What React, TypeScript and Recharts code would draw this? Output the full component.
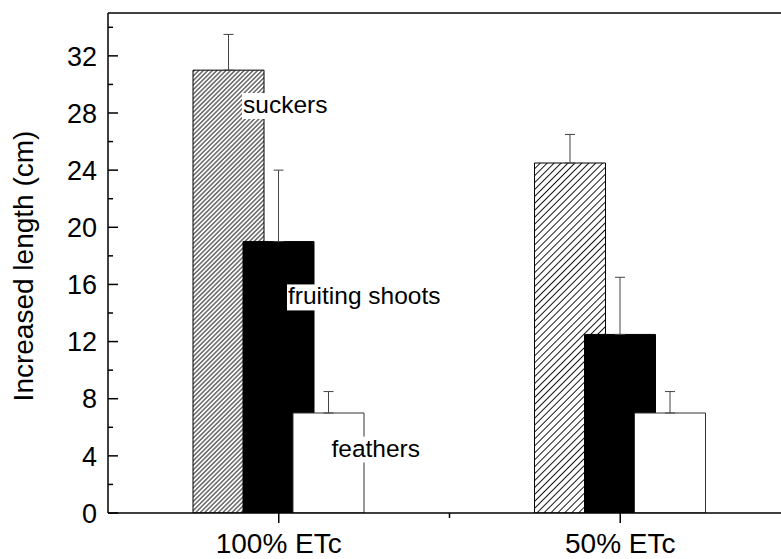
import { useLayoutEffect, useRef, useState } from "react";
import { BarChart, Bar, XAxis, YAxis, ErrorBar, LabelList, Cell, ReferenceLine } from "recharts";

const groups = ["100% ETc", "50% ETc"];
const suckers = [31, 24.5];
const fruitingShoots = [19, 12.5];
const feathers = [7, 7];
const suckersErr = [2.5, 2];
const fruitingShootsErr = [5, 4];
const feathersErr = [1.5, 1.5];
const yTicks = [0, 2, 4, 6, 8, 10, 12, 14, 16, 18, 20, 22, 24, 26, 28, 30, 32, 34];
const seriesNames = ["suckers", "fruiting shoots", "feathers"];

// error bars only go upward, so the lower part is 0
const data = groups.map((group, i) => ({
  group,
  suckers: suckers[i],
  fruitingShoots: fruitingShoots[i],
  feathers: feathers[i],
  suckersErr: [0, suckersErr[i]],
  fruitingShootsErr: [0, fruitingShootsErr[i]],
  feathersErr: [0, feathersErr[i]],
}));

const FONT = '"Liberation Sans", Arial, Helvetica, sans-serif';

function BoxedText({ x, y, text }: { x: number; y: number; text: string }) {
  const ref = useRef<SVGTextElement>(null);
  const [w, setW] = useState(0);
  useLayoutEffect(() => {
    if (ref.current) setW(ref.current.getComputedTextLength());
  }, [text]);
  return (
    <g>
      <rect x={x - 1} y={y - 20} width={w + 2} height={26} fill="#fff" />
      <text ref={ref} x={x} y={y} fontSize={24.5} fontFamily={FONT} fill="#000">
        {text}
      </text>
    </g>
  );
}

// annotation next to the first group's bar; `at` is the baseline in axis units
const annotation = (text: string, dx: number, at: number) => (props: any) => {
  if (props.index !== 0) return null;
  const vb = props.viewBox ?? props;
  const value = Number(props.value);
  if (!vb || !value) return null;
  const base = vb.y + vb.height;
  const ty = base - (at / value) * vb.height;
  return <BoxedText x={vb.x + dx} y={ty} text={text} />;
};

const YTick = (props: any) => {
  const { x, y, payload } = props;
  const v = payload.value;
  const major = v % 4 === 0;
  return (
    <g>
      <line x1={x} x2={x + (major ? 10 : 5)} y1={y} y2={y} stroke="#000" strokeWidth={1.5} />
      {major && (
        <text x={x - 11} y={y} dy="0.36em" textAnchor="end" fontSize={27} fontFamily={FONT} fill="#000">
          {v}
        </text>
      )}
    </g>
  );
};

const XTick = (props: any) => {
  const { x, y, payload } = props;
  const half = payload.offset ?? 170.75;
  return (
    <g>
      <line x1={x} x2={x} y1={y} y2={y + 10} stroke="#000" strokeWidth={1.5} />
      <line x1={x + half} x2={x + half} y1={y} y2={y + 5} stroke="#000" strokeWidth={1.5} />
      <text x={x} y={y + 40} textAnchor="middle" fontSize={28} fontFamily={FONT} fill="#000">
        {payload.value}
      </text>
    </g>
  );
};

export default function App() {
  return (
    <div
      style={{
        position: "absolute",
        left: 0,
        top: 0,
        width: 781,
        height: 559,
        overflow: "hidden",
        background: "#fff",
      }}
    >
      <BarChart
        width={800}
        height={559}
        data={data}
        margin={{ top: 13, right: 9, bottom: 0, left: 0 }}
        barSize={71}
        barGap={-21}
      >
        <defs>
          <pattern id="hatchDense" patternUnits="userSpaceOnUse" width={3.2} height={3.2} patternTransform="rotate(45)">
            <rect width={3.2} height={3.2} fill="#fff" />
            <line x1={1.6} y1={0} x2={1.6} y2={3.2} stroke="#000" strokeWidth={0.9} />
          </pattern>
          <pattern id="hatchWide" patternUnits="userSpaceOnUse" width={4.9} height={4.9} patternTransform="rotate(45)">
            <rect width={4.9} height={4.9} fill="#fff" />
            <line x1={2.45} y1={0} x2={2.45} y2={4.9} stroke="#000" strokeWidth={0.9} />
          </pattern>
        </defs>

        <XAxis
          dataKey="group"
          height={46}
          tickSize={0}
          tickMargin={0}
          interval={0}
          tick={<XTick />}
          axisLine={{ stroke: "#000", strokeWidth: 1.5 }}
        />
        <YAxis
          width={108}
          domain={[0, 35]}
          ticks={yTicks}
          interval={0}
          allowDataOverflow
          tickSize={0}
          tickMargin={0}
          tick={<YTick />}
          axisLine={{ stroke: "#000", strokeWidth: 1.5 }}
          label={{
            value: "Increased length (cm)",
            content: () => (
              <text
                x={33}
                y={266}
                transform="rotate(-90 33 266)"
                textAnchor="middle"
                fontSize={28}
                fontFamily={FONT}
                fill="#000"
              >
                Increased length (cm)
              </text>
            ),
          }}
        />
        {/* top frame line */}
        <ReferenceLine y={35} stroke="#000" strokeWidth={1.5} />

        <Bar dataKey="suckers" stroke="#000" strokeWidth={1} isAnimationActive={false}>
          {data.map((d, i) => (
            <Cell key={d.group} fill={i === 0 ? "url(#hatchDense)" : "url(#hatchWide)"} />
          ))}
          <ErrorBar dataKey="suckersErr" direction="y" width={5} stroke="#444" strokeWidth={1} />
          <LabelList dataKey="suckers" content={annotation(seriesNames[0], 50, 28)} />
        </Bar>
        <Bar dataKey="fruitingShoots" fill="#000" stroke="#000" strokeWidth={1} isAnimationActive={false}>
          <ErrorBar dataKey="fruitingShootsErr" direction="y" width={5} stroke="#444" strokeWidth={1} />
          <LabelList dataKey="fruitingShoots" content={annotation(seriesNames[1], 45, 14.6)} />
        </Bar>
        <Bar dataKey="feathers" fill="#fff" stroke="#333" strokeWidth={1} isAnimationActive={false}>
          <ErrorBar dataKey="feathersErr" direction="y" width={5} stroke="#444" strokeWidth={1} />
          <LabelList dataKey="feathers" content={annotation(seriesNames[2], 38.5, 3.95)} />
        </Bar>
      </BarChart>
    </div>
  );
}
